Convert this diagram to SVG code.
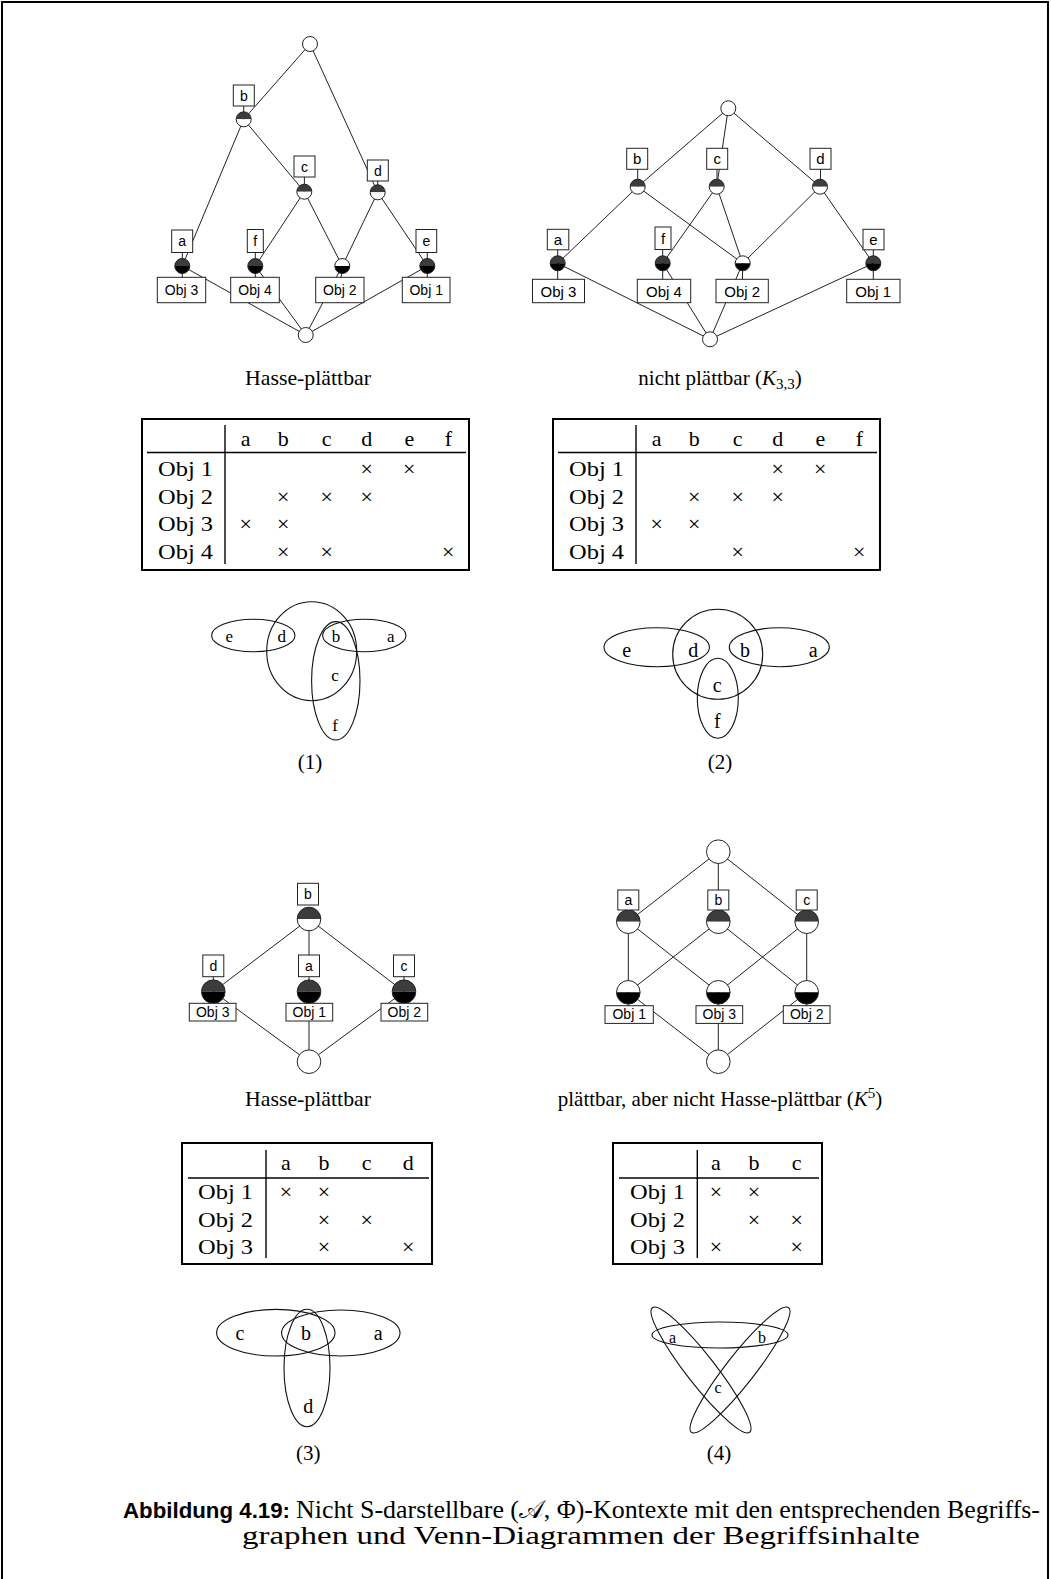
<svg xmlns="http://www.w3.org/2000/svg" xmlns:xlink="http://www.w3.org/1999/xlink" width="1051" height="1579" viewBox="0 0 1051 1579">
<style>
.ln{stroke:#222;stroke-width:1;fill:none}
.att{fill:#3c3c3c}
.obj{fill:#000}
.wht{fill:#fff}
.ring{fill:none;stroke:#222;stroke-width:1}
.box{fill:#fff;stroke:#222;stroke-width:1}
.lb{font-family:"Liberation Sans",Arial,sans-serif;font-size:14px;text-anchor:middle;fill:#000}
.lb2{font-family:"Liberation Sans",Arial,sans-serif;font-size:15px;text-anchor:middle;fill:#000}
.rm{font-family:"Liberation Serif","Times New Roman",serif;fill:#000}
.t21{font-size:21px}
.t22{font-size:22px}
.mid{text-anchor:middle}
.end{text-anchor:end}
.tb{stroke:#000;stroke-width:2;fill:none}
.rule{stroke:#000;stroke-width:1.4;fill:none}
.vn{stroke:#111;stroke-width:1.1;fill:none}
</style>
<defs>
<path id="t1" d="M-7.5,0A7.5,7.5 0 0 1 7.5,0Z"/>
<path id="b1" d="M-7.5,0A7.5,7.5 0 0 0 7.5,0Z"/>
<circle id="o1" r="7.5"/>
<path id="t2" d="M-11.8,0A11.8,11.8 0 0 1 11.8,0Z"/>
<path id="b2" d="M-11.8,0A11.8,11.8 0 0 0 11.8,0Z"/>
<circle id="o2" r="11.8"/>
</defs>

<path d="M2,1579V2H1048V1579" fill="none" stroke="#000" stroke-width="2"/>

<!-- connectors -->
<g id="connectors" class="ln">
<!-- diagram 1 -->
<line x1="310" y1="44" x2="243.7" y2="119.3"/>
<line x1="310" y1="44" x2="377.7" y2="192.3"/>
<line x1="243.7" y1="119.3" x2="182.3" y2="266"/>
<line x1="243.7" y1="119.3" x2="304.3" y2="191.7"/>
<line x1="304.3" y1="191.7" x2="255.3" y2="266"/>
<line x1="304.3" y1="191.7" x2="342.3" y2="266"/>
<line x1="377.7" y1="192.3" x2="342.3" y2="266"/>
<line x1="377.7" y1="192.3" x2="427.3" y2="266"/>
<line x1="182.3" y1="266" x2="305.7" y2="335"/>
<line x1="255.3" y1="266" x2="305.7" y2="335"/>
<line x1="342.3" y1="266" x2="305.7" y2="335"/>
<line x1="427.3" y1="266" x2="305.7" y2="335"/>
<line x1="243.7" y1="100" x2="243.7" y2="119"/>
<line x1="304.4" y1="170" x2="304.4" y2="191"/>
<line x1="377.7" y1="175" x2="377.7" y2="192"/>
<line x1="182.3" y1="245" x2="182.3" y2="290"/>
<line x1="255.3" y1="245" x2="255.3" y2="290"/>
<line x1="342.3" y1="266" x2="340" y2="290"/>
<line x1="427.3" y1="245" x2="427.3" y2="290"/>
<!-- diagram 2 -->
<line x1="728.3" y1="108.3" x2="637.7" y2="186.7"/>
<line x1="728.3" y1="108.3" x2="716.7" y2="186.7"/>
<line x1="728.3" y1="108.3" x2="820" y2="186.7"/>
<line x1="637.7" y1="186.7" x2="557.7" y2="263.3"/>
<line x1="637.7" y1="186.7" x2="742.7" y2="263.3"/>
<line x1="716.7" y1="186.7" x2="662.7" y2="263.3"/>
<line x1="716.7" y1="186.7" x2="742.7" y2="263.3"/>
<line x1="820" y1="186.7" x2="742.7" y2="263.3"/>
<line x1="820" y1="186.7" x2="873.3" y2="263.3"/>
<line x1="557.7" y1="263.3" x2="710" y2="339.3"/>
<line x1="662.7" y1="263.3" x2="710" y2="339.3"/>
<line x1="742.7" y1="263.3" x2="710" y2="339.3"/>
<line x1="873.3" y1="263.3" x2="710" y2="339.3"/>
<line x1="637.7" y1="160" x2="637.7" y2="186"/>
<line x1="717" y1="160" x2="717" y2="186"/>
<line x1="820.5" y1="160" x2="820.5" y2="186"/>
<line x1="557.7" y1="240" x2="557.7" y2="290"/>
<line x1="662.7" y1="240" x2="662.7" y2="290"/>
<line x1="742.7" y1="263" x2="742.3" y2="290"/>
<line x1="873.3" y1="240" x2="873.3" y2="290"/>
<!-- diagram 3 -->
<line x1="309" y1="919" x2="213.3" y2="991.7"/>
<line x1="309" y1="919" x2="309" y2="991.7"/>
<line x1="309" y1="919" x2="404" y2="991.7"/>
<line x1="213.3" y1="991.7" x2="309" y2="1061.7"/>
<line x1="309" y1="991.7" x2="309" y2="1061.7"/>
<line x1="404" y1="991.7" x2="309" y2="1061.7"/>
<line x1="213.3" y1="965" x2="213.3" y2="1012"/>
<line x1="404" y1="965" x2="404" y2="1012"/>
<!-- diagram 4 -->
<line x1="718.3" y1="851.7" x2="628.3" y2="921.7"/>
<line x1="718.3" y1="851.7" x2="718.3" y2="921.7"/>
<line x1="718.3" y1="851.7" x2="806.7" y2="921.7"/>
<line x1="628.3" y1="921.7" x2="628.3" y2="992.3"/>
<line x1="628.3" y1="921.7" x2="718.3" y2="992.3"/>
<line x1="718.3" y1="921.7" x2="628.3" y2="992.3"/>
<line x1="718.3" y1="921.7" x2="806.7" y2="992.3"/>
<line x1="806.7" y1="921.7" x2="718.3" y2="992.3"/>
<line x1="806.7" y1="921.7" x2="806.7" y2="992.3"/>
<line x1="628.3" y1="992.3" x2="718.3" y2="1061.7"/>
<line x1="718.3" y1="992.3" x2="718.3" y2="1061.7"/>
<line x1="806.7" y1="992.3" x2="718.3" y2="1061.7"/>
<line x1="628.3" y1="895" x2="628.3" y2="921"/>
<line x1="806.7" y1="895" x2="806.7" y2="921"/>
<line x1="628.3" y1="992" x2="628.3" y2="1012"/>
<line x1="806.7" y1="992" x2="806.7" y2="1012"/>
</g>

<!-- diagram 1 nodes -->
<g id="d1-top"><use href="#o1" x="310" y="44" class="wht"/><use href="#o1" x="310" y="44" class="ring"/></g>
<g id="d1-b"><use href="#t1" x="243.7" y="119.3" class="att"/><use href="#b1" x="243.7" y="119.3" class="wht"/><use href="#o1" x="243.7" y="119.3" class="ring"/><rect class="box" x="233.3" y="85" width="21" height="21"/><text class="lb" x="243.8" y="100.5">b</text></g>
<g id="d1-c"><use href="#t1" x="304.3" y="191.7" class="att"/><use href="#b1" x="304.3" y="191.7" class="wht"/><use href="#o1" x="304.3" y="191.7" class="ring"/><rect class="box" x="294" y="156" width="21" height="21"/><text class="lb" x="304.5" y="171.5">c</text></g>
<g id="d1-d"><use href="#t1" x="377.7" y="192.3" class="att"/><use href="#b1" x="377.7" y="192.3" class="wht"/><use href="#o1" x="377.7" y="192.3" class="ring"/><rect class="box" x="367.3" y="160" width="21" height="21"/><text class="lb" x="377.8" y="175.5">d</text></g>
<g id="d1-a"><use href="#t1" x="182.3" y="266" class="att"/><use href="#b1" x="182.3" y="266" class="obj"/><use href="#o1" x="182.3" y="266" class="ring"/><rect class="box" x="171.7" y="230" width="21" height="22.5"/><text class="lb" x="182.2" y="246">a</text><rect class="box" x="157.3" y="277.3" width="48.4" height="25.4"/><text class="lb" x="181.5" y="295">Obj 3</text></g>
<g id="d1-f"><use href="#t1" x="255.3" y="266" class="att"/><use href="#b1" x="255.3" y="266" class="obj"/><use href="#o1" x="255.3" y="266" class="ring"/><rect class="box" x="247.3" y="229.5" width="16" height="23"/><text class="lb" x="255.3" y="246">f</text><rect class="box" x="230.7" y="277.3" width="48.6" height="25.4"/><text class="lb" x="255" y="295">Obj 4</text></g>
<g id="d1-o2"><use href="#t1" x="342.3" y="266" class="wht"/><use href="#b1" x="342.3" y="266" class="obj"/><use href="#o1" x="342.3" y="266" class="ring"/><rect class="box" x="315.7" y="277.3" width="48.3" height="25.4"/><text class="lb" x="339.8" y="295">Obj 2</text></g>
<g id="d1-e"><use href="#t1" x="427.3" y="266" class="att"/><use href="#b1" x="427.3" y="266" class="obj"/><use href="#o1" x="427.3" y="266" class="ring"/><rect class="box" x="416" y="229.5" width="20.7" height="23"/><text class="lb" x="426.3" y="246">e</text><rect class="box" x="402.3" y="277.3" width="47.7" height="25.4"/><text class="lb" x="426.2" y="295">Obj 1</text></g>
<g id="d1-bot"><use href="#o1" x="305.7" y="335" class="wht"/><use href="#o1" x="305.7" y="335" class="ring"/></g>

<!-- diagram 2 nodes -->
<g id="d2-top"><use href="#o1" x="728.3" y="108.3" class="wht"/><use href="#o1" x="728.3" y="108.3" class="ring"/></g>
<g id="d2-b"><use href="#t1" x="637.7" y="186.7" class="att"/><use href="#b1" x="637.7" y="186.7" class="wht"/><use href="#o1" x="637.7" y="186.7" class="ring"/><rect class="box" x="626.7" y="148.3" width="21" height="21"/><text class="lb2" x="637.2" y="164">b</text></g>
<g id="d2-c"><use href="#t1" x="716.7" y="186.7" class="att"/><use href="#b1" x="716.7" y="186.7" class="wht"/><use href="#o1" x="716.7" y="186.7" class="ring"/><rect class="box" x="706.7" y="148.3" width="21" height="21"/><text class="lb2" x="717.2" y="164">c</text></g>
<g id="d2-d"><use href="#t1" x="820" y="186.7" class="att"/><use href="#b1" x="820" y="186.7" class="wht"/><use href="#o1" x="820" y="186.7" class="ring"/><rect class="box" x="810" y="148.3" width="21" height="21"/><text class="lb2" x="820.5" y="164">d</text></g>
<g id="d2-a"><use href="#t1" x="557.7" y="263.3" class="att"/><use href="#b1" x="557.7" y="263.3" class="obj"/><use href="#o1" x="557.7" y="263.3" class="ring"/><rect class="box" x="547.3" y="229.3" width="21.5" height="20.5"/><text class="lb2" x="558" y="245">a</text><rect class="box" x="532.5" y="279.3" width="52" height="23.4"/><text class="lb2" x="558.5" y="296.5">Obj 3</text></g>
<g id="d2-f"><use href="#t1" x="662.7" y="263.3" class="att"/><use href="#b1" x="662.7" y="263.3" class="obj"/><use href="#o1" x="662.7" y="263.3" class="ring"/><rect class="box" x="655" y="227" width="16" height="22.5"/><text class="lb2" x="663" y="244">f</text><rect class="box" x="637.3" y="279.3" width="53.4" height="23.4"/><text class="lb2" x="664" y="296.5">Obj 4</text></g>
<g id="d2-o2"><use href="#t1" x="742.7" y="263.3" class="wht"/><use href="#b1" x="742.7" y="263.3" class="obj"/><use href="#o1" x="742.7" y="263.3" class="ring"/><rect class="box" x="716" y="279.3" width="52.3" height="23.4"/><text class="lb2" x="742.2" y="296.5">Obj 2</text></g>
<g id="d2-e"><use href="#t1" x="873.3" y="263.3" class="att"/><use href="#b1" x="873.3" y="263.3" class="obj"/><use href="#o1" x="873.3" y="263.3" class="ring"/><rect class="box" x="863" y="229.3" width="21" height="20.5"/><text class="lb2" x="873.5" y="245">e</text><rect class="box" x="846.7" y="279.3" width="53.3" height="23.4"/><text class="lb2" x="873.3" y="296.5">Obj 1</text></g>
<g id="d2-bot"><use href="#o1" x="710" y="339.3" class="wht"/><use href="#o1" x="710" y="339.3" class="ring"/></g>

<text class="rm t21 mid" x="308" y="385" textLength="126" lengthAdjust="spacingAndGlyphs">Hasse-plättbar</text>
<text class="rm t21 mid" x="720" y="385">nicht plättbar (<tspan font-style="italic">K</tspan><tspan font-size="15" dy="4">3,3</tspan><tspan dy="-4">)</tspan></text>

<!-- table 1 -->
<g id="table1" class="rm t22">
<rect class="tb" x="142" y="419" width="327" height="151"/>
<line class="rule" x1="225" y1="425" x2="225" y2="564"/>
<line class="rule" x1="147" y1="452.5" x2="466" y2="452.5"/>
<g class="mid"><text x="245.7" y="446">a</text><text x="283.3" y="446">b</text><text x="326.7" y="446">c</text><text x="366.7" y="446">d</text><text x="409.3" y="446">e</text><text x="448.3" y="446">f</text></g>
<g class="end" font-size="21"><text x="213" y="476" textLength="55" lengthAdjust="spacingAndGlyphs">Obj 1</text><text x="213" y="503.5" textLength="55" lengthAdjust="spacingAndGlyphs">Obj 2</text><text x="213" y="531" textLength="55" lengthAdjust="spacingAndGlyphs">Obj 3</text><text x="213" y="558.5" textLength="55" lengthAdjust="spacingAndGlyphs">Obj 4</text></g>
<g class="mid"><text x="366.7" y="476">×</text><text x="409.3" y="476">×</text>
<text x="283.3" y="503.5">×</text><text x="326.7" y="503.5">×</text><text x="366.7" y="503.5">×</text>
<text x="245.7" y="531">×</text><text x="283.3" y="531">×</text>
<text x="283.3" y="558.5">×</text><text x="326.7" y="558.5">×</text><text x="448.3" y="558.5">×</text></g>
</g>
<!-- table 2 -->
<g id="table2" class="rm t22" transform="translate(411,0)">
<rect class="tb" x="142" y="419" width="327" height="151"/>
<line class="rule" x1="225" y1="425" x2="225" y2="564"/>
<line class="rule" x1="147" y1="452.5" x2="466" y2="452.5"/>
<g class="mid"><text x="245.7" y="446">a</text><text x="283.3" y="446">b</text><text x="326.7" y="446">c</text><text x="366.7" y="446">d</text><text x="409.3" y="446">e</text><text x="448.3" y="446">f</text></g>
<g class="end" font-size="21"><text x="213" y="476" textLength="55" lengthAdjust="spacingAndGlyphs">Obj 1</text><text x="213" y="503.5" textLength="55" lengthAdjust="spacingAndGlyphs">Obj 2</text><text x="213" y="531" textLength="55" lengthAdjust="spacingAndGlyphs">Obj 3</text><text x="213" y="558.5" textLength="55" lengthAdjust="spacingAndGlyphs">Obj 4</text></g>
<g class="mid"><text x="366.7" y="476">×</text><text x="409.3" y="476">×</text>
<text x="283.3" y="503.5">×</text><text x="326.7" y="503.5">×</text><text x="366.7" y="503.5">×</text>
<text x="245.7" y="531">×</text><text x="283.3" y="531">×</text>
<text x="326.7" y="558.5">×</text><text x="448.3" y="558.5">×</text></g>
</g>

<!-- venn 1 -->
<g id="venn1">
<ellipse class="vn" cx="253.3" cy="635.5" rx="41.7" ry="16.2"/>
<ellipse class="vn" cx="311.7" cy="651.2" rx="45" ry="49.5"/>
<ellipse class="vn" cx="364.3" cy="635.5" rx="41.7" ry="16.2"/>
<ellipse class="vn" cx="335.8" cy="680.8" rx="24.2" ry="59.2"/>
<g class="rm mid" font-size="17"><text x="229.3" y="642">e</text><text x="281.7" y="642">d</text><text x="336" y="642">b</text><text x="390.7" y="642">a</text><text x="335" y="681">c</text><text x="335" y="730.5">f</text></g>
<text class="rm t21 mid" x="310" y="769">(1)</text>
</g>
<!-- venn 2 -->
<g id="venn2">
<ellipse class="vn" cx="656.7" cy="647.2" rx="52.7" ry="19.5"/>
<circle class="vn" cx="717.7" cy="654.3" r="45"/>
<ellipse class="vn" cx="779.3" cy="647.2" rx="50" ry="19.5"/>
<ellipse class="vn" cx="717.8" cy="698.3" rx="20.5" ry="40"/>
<g class="rm mid" font-size="20"><text x="626.7" y="656.5">e</text><text x="693.3" y="656.5">d</text><text x="745" y="656.5">b</text><text x="813.3" y="656.5">a</text><text x="717.3" y="691.5">c</text><text x="717.3" y="727.5">f</text></g>
<text class="rm t21 mid" x="720" y="769">(2)</text>
</g>

<!-- diagram 3 nodes -->
<g id="d3-b"><use href="#t2" x="309" y="919" class="att"/><use href="#b2" x="309" y="919" class="wht"/><use href="#o2" x="309" y="919" class="ring"/><rect class="box" x="297.5" y="883.3" width="21" height="21.7"/><text class="lb" x="308" y="899">b</text></g>
<g id="d3-d"><use href="#t2" x="213.3" y="991.7" class="att"/><use href="#b2" x="213.3" y="991.7" class="obj"/><use href="#o2" x="213.3" y="991.7" class="ring"/><rect class="box" x="202.8" y="955" width="21" height="21.7"/><text class="lb" x="213.3" y="971">d</text><rect class="box" x="189.3" y="1003.3" width="46.7" height="17.7"/><text class="lb" x="212.7" y="1017">Obj 3</text></g>
<g id="d3-a"><use href="#t2" x="309" y="991.7" class="att"/><use href="#b2" x="309" y="991.7" class="obj"/><use href="#o2" x="309" y="991.7" class="ring"/><rect class="box" x="298.5" y="955" width="21" height="21.7"/><text class="lb" x="309" y="971">a</text><rect class="box" x="286" y="1003.3" width="46.7" height="17.7"/><text class="lb" x="309.3" y="1017">Obj 1</text></g>
<g id="d3-c"><use href="#t2" x="404" y="991.7" class="att"/><use href="#b2" x="404" y="991.7" class="obj"/><use href="#o2" x="404" y="991.7" class="ring"/><rect class="box" x="393.5" y="955" width="21" height="21.7"/><text class="lb" x="404" y="971">c</text><rect class="box" x="381" y="1003.3" width="46.7" height="17.7"/><text class="lb" x="404.3" y="1017">Obj 2</text></g>
<g id="d3-bot"><use href="#o2" x="309" y="1061.7" class="wht"/><use href="#o2" x="309" y="1061.7" class="ring"/></g>

<!-- diagram 4 nodes -->
<g id="d4-top"><use href="#o2" x="718.3" y="851.7" class="wht"/><use href="#o2" x="718.3" y="851.7" class="ring"/></g>
<g id="d4-a"><use href="#t2" x="628.3" y="921.7" class="att"/><use href="#b2" x="628.3" y="921.7" class="wht"/><use href="#o2" x="628.3" y="921.7" class="ring"/><rect class="box" x="617.8" y="890" width="21" height="20"/><text class="lb" x="628.3" y="905">a</text></g>
<g id="d4-b"><use href="#t2" x="718.3" y="921.7" class="att"/><use href="#b2" x="718.3" y="921.7" class="wht"/><use href="#o2" x="718.3" y="921.7" class="ring"/><rect class="box" x="707.8" y="890" width="21" height="20"/><text class="lb" x="718.3" y="905">b</text></g>
<g id="d4-c"><use href="#t2" x="806.7" y="921.7" class="att"/><use href="#b2" x="806.7" y="921.7" class="wht"/><use href="#o2" x="806.7" y="921.7" class="ring"/><rect class="box" x="796.2" y="890" width="21" height="20"/><text class="lb" x="806.7" y="905">c</text></g>
<g id="d4-o1"><use href="#t2" x="628.3" y="992.3" class="wht"/><use href="#b2" x="628.3" y="992.3" class="obj"/><use href="#o2" x="628.3" y="992.3" class="ring"/><rect class="box" x="605" y="1005.7" width="48.3" height="17.7"/><text class="lb" x="629.2" y="1019.3">Obj 1</text></g>
<g id="d4-o3"><use href="#t2" x="718.3" y="992.3" class="wht"/><use href="#b2" x="718.3" y="992.3" class="obj"/><use href="#o2" x="718.3" y="992.3" class="ring"/><rect class="box" x="696" y="1005.7" width="46.7" height="17.7"/><text class="lb" x="719.3" y="1019.3">Obj 3</text></g>
<g id="d4-o2"><use href="#t2" x="806.7" y="992.3" class="wht"/><use href="#b2" x="806.7" y="992.3" class="obj"/><use href="#o2" x="806.7" y="992.3" class="ring"/><rect class="box" x="783.3" y="1005.7" width="46.7" height="17.7"/><text class="lb" x="806.7" y="1019.3">Obj 2</text></g>
<g id="d4-bot"><use href="#o2" x="718.3" y="1061.7" class="wht"/><use href="#o2" x="718.3" y="1061.7" class="ring"/></g>

<text class="rm t21 mid" x="308" y="1106" textLength="126" lengthAdjust="spacingAndGlyphs">Hasse-plättbar</text>
<text class="rm t21 mid" x="720" y="1106">plättbar, aber nicht Hasse-plättbar (<tspan font-style="italic">K</tspan><tspan font-size="15" dy="-8">5</tspan><tspan dy="8">)</tspan></text>

<!-- table 3 -->
<g id="table3" class="rm t22">
<rect class="tb" x="182" y="1143" width="250" height="121"/>
<line class="rule" x1="266" y1="1150" x2="266" y2="1258"/>
<line class="rule" x1="188" y1="1178" x2="429" y2="1178"/>
<g class="mid"><text x="286" y="1170">a</text><text x="324" y="1170">b</text><text x="366.7" y="1170">c</text><text x="408.3" y="1170">d</text></g>
<g class="end" font-size="21"><text x="253" y="1199" textLength="55" lengthAdjust="spacingAndGlyphs">Obj 1</text><text x="253" y="1226.5" textLength="55" lengthAdjust="spacingAndGlyphs">Obj 2</text><text x="253" y="1254" textLength="55" lengthAdjust="spacingAndGlyphs">Obj 3</text></g>
<g class="mid"><text x="286" y="1199">×</text><text x="324" y="1199">×</text>
<text x="324" y="1226.5">×</text><text x="366.7" y="1226.5">×</text>
<text x="324" y="1254">×</text><text x="408.3" y="1254">×</text></g>
</g>
<!-- table 4 -->
<g id="table4" class="rm t22">
<rect class="tb" x="613" y="1143" width="209" height="121"/>
<line class="rule" x1="697.3" y1="1150" x2="697.3" y2="1258"/>
<line class="rule" x1="619" y1="1178" x2="819" y2="1178"/>
<g class="mid"><text x="716" y="1170">a</text><text x="754" y="1170">b</text><text x="796.7" y="1170">c</text></g>
<g class="end" font-size="21"><text x="685" y="1199" textLength="55" lengthAdjust="spacingAndGlyphs">Obj 1</text><text x="685" y="1226.5" textLength="55" lengthAdjust="spacingAndGlyphs">Obj 2</text><text x="685" y="1254" textLength="55" lengthAdjust="spacingAndGlyphs">Obj 3</text></g>
<g class="mid"><text x="716" y="1199">×</text><text x="754" y="1199">×</text>
<text x="754" y="1226.5">×</text><text x="796.7" y="1226.5">×</text>
<text x="716" y="1254">×</text><text x="796.7" y="1254">×</text></g>
</g>

<!-- venn 3 -->
<g id="venn3">
<ellipse class="vn" cx="275.8" cy="1332.7" rx="59.2" ry="23.3"/>
<ellipse class="vn" cx="340.8" cy="1333" rx="59.2" ry="23"/>
<ellipse class="vn" cx="307" cy="1368" rx="23" ry="58.7"/>
<g class="rm mid" font-size="20"><text x="240" y="1340">c</text><text x="306" y="1340">b</text><text x="378.3" y="1340">a</text><text x="308.3" y="1412.5">d</text></g>
<text class="rm t21 mid" x="308.3" y="1460">(3)</text>
</g>
<!-- venn 4 -->
<g id="venn4">
<ellipse class="vn" cx="720" cy="1335" rx="68" ry="13"/>
<ellipse class="vn" cx="701" cy="1370" rx="79" ry="14.5" transform="rotate(52 701 1370)"/>
<ellipse class="vn" cx="740" cy="1370" rx="79" ry="14.5" transform="rotate(-52 740 1370)"/>
<g class="rm mid" font-size="16"><text x="672.5" y="1343">a</text><text x="762" y="1343">b</text><text x="718" y="1393">c</text></g>
<text class="rm t21 mid" x="719" y="1460">(4)</text>
</g>

<!-- caption -->
<text x="123" y="1518" font-family="Liberation Sans,Arial,sans-serif" font-weight="bold" font-size="22" textLength="167" lengthAdjust="spacingAndGlyphs">Abbildung 4.19:</text>
<text class="rm" x="296" y="1518" font-size="25" textLength="744" lengthAdjust="spacingAndGlyphs">Nicht S-darstellbare (<tspan font-family="DejaVu Serif,Noto Sans,serif">𝒜</tspan>, Φ)-Kontexte mit den entsprechenden Begriffs-</text>
<text class="rm" x="242" y="1544" font-size="25" textLength="678" lengthAdjust="spacingAndGlyphs">graphen und Venn-Diagrammen der Begriffsinhalte</text>
</svg>
